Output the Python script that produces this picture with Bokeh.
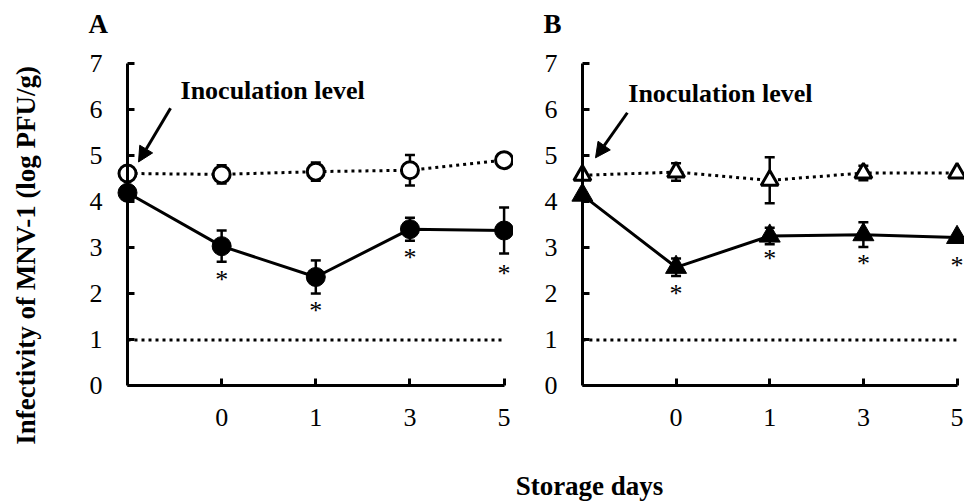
import math
from bokeh.plotting import figure
from bokeh.models import (ColumnDataSource, Whisker, TeeHead, Arrow, NormalHead, Label,
                          FixedTicker)
from bokeh.layouts import row
from bokeh.embed import file_html
from bokeh.resources import INLINE

# ---------------- data ----------------
stages = ["Inoculation", "0", "1", "3", "5"]      # first point = inoculation level
day_tick_labels = ["0", "1", "3", "5"]
y_ticks = [0, 1, 2, 3, 4, 5, 6, 7]
detection_limit = 1.0

# Panel A (circles)
a_control = [4.62, 4.60, 4.66, 4.69, 4.91]
a_control_err = [0.05, 0.20, 0.20, 0.33, 0.06]
a_treated = [4.20, 3.04, 2.37, 3.41, 3.38]
a_treated_err = [0.05, 0.34, 0.36, 0.25, 0.50]
a_signif_y = [None, 2.39, 1.70, 2.86, 2.51]

# Panel B (triangles)
b_control = [4.58, 4.65, 4.47, 4.63, 4.63]
b_control_err = [0.05, 0.19, 0.50, 0.16, 0.05]
b_treated = [4.15, 2.58, 3.26, 3.29, 3.23]
b_treated_err = [0.05, 0.19, 0.18, 0.27, 0.06]
b_signif_y = [None, 2.08, 2.84, 2.73, 2.69]

FONT = "Liberation Serif"
Y_RANGE = (-2.576, 8.380)


def panel(letter, ctrl, ctrl_err, trt, trt_err, sig_y, open_marker, width, xr,
          arrow_xy, label_xy, letter_xy, ytitle=False, xtitle=None):
    xs = list(range(len(stages)))
    p = figure(width=width, height=504, x_range=xr, y_range=Y_RANGE,
               output_backend="svg", toolbar_location=None,
               min_border_left=0, min_border_right=0,
               min_border_top=0, min_border_bottom=0)
    p.outline_line_color = None
    p.grid.visible = False
    p.background_fill_color = "white"
    p.border_fill_color = "white"

    # axes, crossing at the origin
    ya = p.yaxis[0]
    ya.fixed_location = 0
    ya.bounds = (y_ticks[0], y_ticks[-1])
    ya.ticker = FixedTicker(ticks=y_ticks)
    xa = p.xaxis[0]
    xa.fixed_location = 0
    xa.bounds = (0, len(stages) - 1)
    xa.ticker = FixedTicker(ticks=xs[1:])
    xa.major_label_overrides = {i + 1: lab for i, lab in enumerate(day_tick_labels)}
    for ax in (xa, ya):
        ax.axis_line_width = 3
        ax.axis_line_color = "black"
        ax.major_tick_line_width = 3
        ax.major_tick_line_color = "black"
        ax.major_tick_in = 7
        ax.major_tick_out = 0
        ax.minor_tick_line_color = None
        ax.major_label_text_font = FONT
        ax.major_label_text_font_size = "26px"
        ax.major_label_text_color = "black"
    ya.major_label_standoff = 25
    xa.major_label_standoff = 23

    # detection limit
    p.line([xs[0], xs[-1]], [detection_limit, detection_limit], line_color="black",
           line_width=3, line_dash="3 4")

    src_c = ColumnDataSource(dict(x=xs, y=ctrl,
                                  lo=[v - e for v, e in zip(ctrl, ctrl_err)],
                                  hi=[v + e for v, e in zip(ctrl, ctrl_err)]))
    src_t = ColumnDataSource(dict(x=xs, y=trt,
                                  lo=[v - e for v, e in zip(trt, trt_err)],
                                  hi=[v + e for v, e in zip(trt, trt_err)]))

    p.line("x", "y", source=src_c, line_color="black", line_width=3, line_dash="3 4")
    p.line("x", "y", source=src_t, line_color="black", line_width=3)

    if open_marker == "circle":
        p.scatter("x", "y", source=src_c, marker="circle", size=17,
                  fill_color="white", line_color="black", line_width=3)
        p.scatter("x", "y", source=src_t, marker="circle", size=19,
                  fill_color="black", line_color="black")
    else:
        p.scatter("x", "y", source=src_c, marker="triangle", size=17,
                  fill_color="white", line_color="black", line_width=3)
        p.scatter("x", "y", source=src_t, marker="triangle", size=21,
                  fill_color="black", line_color="black")

    for src in (src_c, src_t):
        w = Whisker(source=src, base="x", upper="hi", lower="lo",
                    line_width=2.5, line_color="black",
                    upper_head=TeeHead(size=10, line_width=2.5, line_color="black"),
                    lower_head=TeeHead(size=10, line_width=2.5, line_color="black"))
        p.add_layout(w)

    sx = [x for x, s in zip(xs, sig_y) if s is not None]
    sy = [s for s in sig_y if s is not None]
    p.text(sx, sy, text=["*"] * len(sx), text_align="center", text_baseline="middle",
           text_font=FONT, text_font_size="26px", text_color="#000000", y_offset=3)

    p.add_layout(Arrow(end=NormalHead(size=15, fill_color="black", line_color="black"),
                       x_start=arrow_xy[0], y_start=arrow_xy[1],
                       x_end=arrow_xy[2], y_end=arrow_xy[3],
                       line_width=3, line_color="black"))
    p.add_layout(Label(x=label_xy[0], y=label_xy[1], text="Inoculation level",
                       text_font=FONT, text_font_style="bold", text_font_size="26px",
                       text_color="black", text_baseline="alphabetic", text_align="left"))
    p.add_layout(Label(x=letter_xy[0], y=letter_xy[1], text=letter,
                       text_font=FONT, text_font_style="bold", text_font_size="27px",
                       text_color="black", text_baseline="alphabetic", text_align="left"))
    if ytitle:
        p.add_layout(Label(x=-1.083, y=2.84, text="Infectivity of MNV-1 (log PFU/g)",
                           angle=math.pi / 2, text_font=FONT, text_font_style="bold",
                           text_font_size="27px", text_color="black",
                           text_align="center", text_baseline="middle"))
    if xtitle:
        p.add_layout(Label(x=xtitle[0], y=xtitle[1], text="Storage days",
                           text_font=FONT, text_font_style="bold", text_font_size="27px",
                           text_color="black", text_align="center",
                           text_baseline="alphabetic"))
    return p


pa = panel("A", a_control, a_control_err, a_treated, a_treated_err, a_signif_y,
           "circle", 513, (-1.349, 4.0999),
           (0.457, 6.04, 0.117, 4.87), (0.563, 6.42), (-0.414, 7.87), ytitle=True)
pb = panel("B", b_control, b_control_err, b_treated, b_treated_err, b_signif_y,
           "triangle", 451, (-0.7357, 4.0797),
           (0.48, 5.94, 0.14, 4.96), (0.49, 6.36), (-0.415, 7.87),
           xtitle=(0.0758, -2.17))

layout = row(pa, pb)
open("out.html", "w").write(file_html(layout, INLINE))
